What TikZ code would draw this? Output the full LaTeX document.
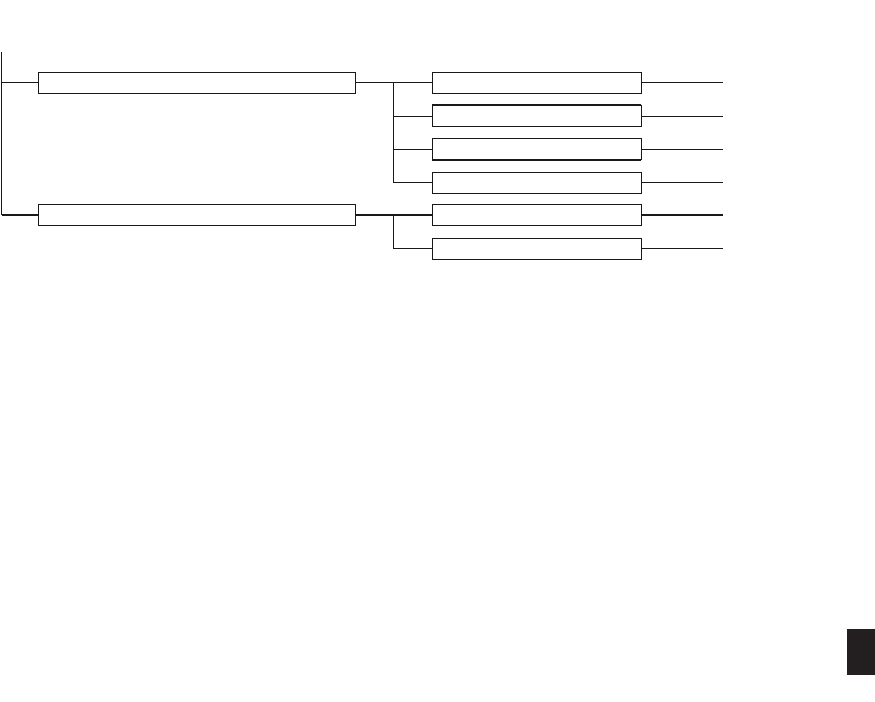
\documentclass[tikz,border=0pt]{standalone}
\begin{document}
\begin{tikzpicture}[x=0.75pt,y=-0.75pt,
  thinln/.style={line width=0.65pt,draw=black!90},
  thickln/.style={line width=1.4pt,draw=black!90},
  bigbox/.style={draw=black!90,line width=0.65pt,rectangle,inner sep=0pt,minimum width=237.75pt,minimum height=15.75pt},
  smallbox/.style={draw=black!90,line width=0.65pt,rectangle,inner sep=0pt,minimum width=156.75pt,minimum height=15.75pt}]
\useasboundingbox (0,0) rectangle (875,701);
\definecolor{blk}{HTML}{231F20}
% main boxes
\node[bigbox] (b1) at (196.5,82.5) {};
\node[bigbox] (b2) at (196.5,215) {};
% right boxes
\node[smallbox] (r1) at (536.5,82.5) {};
\node[smallbox] (r2) at (536.5,116) {};
\node[smallbox] (r3) at (536.5,149) {};
\node[smallbox] (r4) at (536.5,182.5) {};
\node[smallbox] (r5) at (536.5,215) {};
\node[smallbox] (r6) at (536.5,248.5) {};
% emphasised edges
\draw[thickln] (r2.north west) -- (r2.north east);
\draw[thickln] (r3.south west) -- (r3.south east);
% left trunk
\coordinate (top) at (1.5,52);
\draw[thinln] (top) |- (b1.west);
\draw[thinln] (b1.west -| top) -- (b2.west -| top);
\draw[thickln] (b2.west -| top) -- (b2.west);
% branch 1
\coordinate (j1) at (393.5,82.5);
\draw[thinln] (b1.east) -- (r1.west);
\draw[thinln] (j1) |- (r4.west);
\draw[thinln] (j1 |- r2.west) -- (r2.west);
\draw[thinln] (j1 |- r3.west) -- (r3.west);
% branch 2
\coordinate (j2) at (393.5,215);
\draw[thickln] (b2.east) -- (r5.west);
\draw[thinln] (j2) |- (r6.west);
% outgoing lines
\coordinate (e1) at (723,82.5);
\coordinate (e2) at (723,116);
\coordinate (e3) at (723,149);
\coordinate (e4) at (723,182.5);
\coordinate (e5) at (723,215);
\coordinate (e6) at (723,248.5);
\draw[thinln] (r1.east) -- (e1);
\draw[thinln] (r2.east) -- (e2);
\draw[thinln] (r3.east) -- (e3);
\draw[thinln] (r4.east) -- (e4);
\draw[thickln] (r5.east) -- (e5);
\draw[thinln] (r6.east) -- (e6);
% black tab
\fill[blk] (847,629) rectangle (875,675);
\end{tikzpicture}
\end{document}
